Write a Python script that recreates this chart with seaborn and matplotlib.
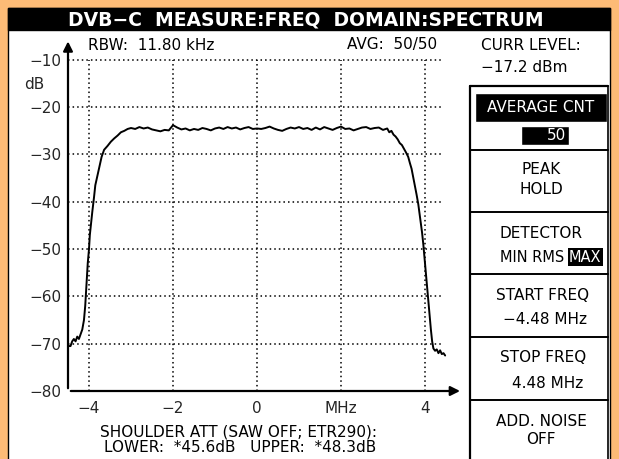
import matplotlib
matplotlib.use('Agg')
import matplotlib.pyplot as plt
import seaborn as sns
from matplotlib.patches import Rectangle

# spectrum trace (MHz, dB)
freq_left = [-4.48, -4.44, -4.40, -4.36, -4.32, -4.28, -4.24, -4.20, -4.16, -4.12,
             -4.09, -4.07, -4.05, -4.03, -4.00, -3.98, -3.95, -3.92, -3.88, -3.85,
             -3.80, -3.75, -3.70, -3.64, -3.56, -3.48, -3.40, -3.32, -3.24, -3.16,
             -3.08, -3.00]
level_left = [-70.5, -70.5, -69.5, -69.0, -69.5, -68.5, -69.0, -68.0, -67.0, -65.0,
              -62.0, -59.0, -56.0, -53.0, -50.0, -47.0, -44.5, -42.0, -39.0, -36.5,
              -34.5, -32.5, -30.5, -29.0, -28.2, -27.3, -26.6, -26.0, -25.3, -25.0,
              -24.6, -24.4]
freq_top = [-2.9, -2.8, -2.7, -2.6, -2.5, -2.4, -2.3, -2.2, -2.1, -2.0,
            -1.9, -1.8, -1.7, -1.6, -1.5, -1.4, -1.3, -1.2, -1.1, -1.0,
            -0.9, -0.8, -0.7, -0.6, -0.5, -0.4, -0.3, -0.2, -0.1, 0.0,
            0.1, 0.2, 0.3, 0.4, 0.5, 0.6, 0.7, 0.8, 0.9, 1.0,
            1.1, 1.2, 1.3, 1.4, 1.5, 1.6, 1.7, 1.8, 1.9, 2.0,
            2.1, 2.2, 2.3, 2.4, 2.5, 2.6, 2.7, 2.8, 2.9, 3.0, 3.1]
level_top = [-24.6, -24.2, -24.5, -24.3, -24.7, -24.9, -25.1, -24.8, -24.9, -23.8,
             -24.3, -24.7, -24.5, -24.9, -24.6, -24.8, -24.4, -24.6, -24.9, -24.5,
             -24.3, -24.6, -24.2, -24.5, -24.3, -24.7, -24.4, -24.2, -24.6, -24.5,
             -24.6, -24.4, -24.1, -24.5, -24.8, -25.0, -24.6, -24.3, -24.5, -24.2,
             -24.6, -24.4, -24.8, -24.3, -24.7, -24.2, -24.5, -24.8, -24.4, -24.1,
             -24.6, -24.5, -24.9, -24.6, -24.3, -24.2, -24.6, -24.4, -24.3, -24.8, -24.5]
freq_right = [3.15, 3.20, 3.25, 3.30, 3.35, 3.40, 3.45, 3.50, 3.55, 3.60,
              3.64, 3.68, 3.72, 3.76, 3.80, 3.84, 3.87, 3.90, 3.93, 3.96,
              3.99, 4.02, 4.05, 4.08, 4.11, 4.14, 4.17, 4.20, 4.24, 4.28,
              4.32, 4.36, 4.40, 4.44, 4.48]
level_right = [-25.3, -25.0, -25.8, -26.2, -26.8, -27.6, -28.0, -28.8, -29.6, -30.5,
               -31.8, -33.0, -34.8, -36.5, -38.5, -40.5, -42.5, -44.5, -46.5, -49.0,
               -52.0, -55.0, -58.0, -61.0, -64.0, -67.0, -69.5, -71.0, -71.5, -71.2,
               -72.0, -71.4, -72.2, -72.0, -72.5]

x_ticks = [-4, -2, 0, 2, 4]
x_labels = ['\u22124', '\u22122', '0', 'MHz', '4']
y_ticks = [-10, -20, -30, -40, -50, -60, -70, -80]

freq = freq_left + freq_top + freq_right
level = level_left + level_top + level_right

sns.set_style('white')
plt.rcParams['font.family'] = ['DejaVu Sans']

ORANGE = '#FDBB76'
W, H = 619, 459
fig = plt.figure(figsize=(W / 100, H / 100), dpi=100, facecolor=ORANGE)

# background layer in pixel coordinates
bg = fig.add_axes([0, 0, 1, 1])
bg.set_xlim(0, W)
bg.set_ylim(H, 0)
bg.axis('off')
bg.add_patch(Rectangle((8, 8), 602, 460, facecolor='white', edgecolor='black', lw=1))
bg.add_patch(Rectangle((8, 8), 602, 22, facecolor='black', edgecolor='black', lw=1))

def txt(x, y, s, ha='left', size=11, color='black', **kw):
    bg.text(x, y, s, ha=ha, va='center', fontsize=size, color=color, **kw)

txt(306, 19.5, 'DVB\u2212C  MEASURE:FREQ  DOMAIN:SPECTRUM', ha='center', size=13.5,
    color='white', fontweight='bold')
txt(88, 45, 'RBW:  11.80 kHz')
txt(437, 45, 'AVG:  50/50', ha='right')
txt(481, 46, 'CURR LEVEL:')
txt(481, 68, '\u221217.2 dBm')

# right-hand soft key panel
bg.plot([470, 470], [86, 459], color='black', lw=1.6)
bg.plot([470, 608], [86, 86], color='black', lw=1.6)
bg.plot([608, 608], [86, 459], color='black', lw=1.2)
for yy in [150, 212, 274, 337, 400]:
    bg.plot([470, 608], [yy, yy], color='black', lw=1.4)
bg.add_patch(Rectangle((475, 93), 132, 29, facecolor='black'))
txt(541, 107.5, 'AVERAGE CNT', ha='center', color='white')
bg.add_patch(Rectangle((521, 126), 48, 19, facecolor='black'))
txt(566, 135, '50', ha='right', color='white')
txt(541, 170, 'PEAK', ha='center')
txt(541, 189, 'HOLD', ha='center')
txt(541, 233, 'DETECTOR', ha='center')
txt(564, 257, 'MIN RMS', ha='right', size=10.5)
txt(569, 257, 'MAX', size=10.5, color='white',
    bbox=dict(facecolor='black', edgecolor='none', pad=1))
txt(543, 296, 'START FREQ', ha='center')
txt(545, 320, '\u22124.48 MHz', ha='center')
txt(543, 357, 'STOP FREQ', ha='center')
txt(548, 383, '4.48 MHz', ha='center')
txt(541, 422, 'ADD. NOISE', ha='center')
txt(541, 440, 'OFF', ha='center')

txt(238, 432, 'SHOULDER ATT (SAW OFF; ETR290):', ha='center')
txt(240, 448, 'LOWER:  *45.6dB   UPPER:  *48.3dB', ha='center')

# spectrum plot area: x from -4.5 MHz (px 68) to 4.9 MHz (px 463), y -80 (px 391) to -5.5
x0, x1 = -4.5, 4.9
y0, y1 = -80, -5.5
px_per_mhz, px_per_db = 42, 4.73
left = 257 + x0 * px_per_mhz
right = 257 + x1 * px_per_mhz
top = 391 - (y1 - y0) * px_per_db
ax = fig.add_axes([left / W, (H - 391) / H, (right - left) / W, (391 - top) / H])
ax.set_facecolor('none')
ax.set_xlim(x0, x1)
ax.set_ylim(y0, y1)
for s in ax.spines.values():
    s.set_visible(False)

# dotted grid
ax.hlines(y_ticks[:-1], x0, 4.4, colors='black', linestyles=(0, (1, 2)), lw=1.1)
ax.vlines(x_ticks, y0, -10, colors='black', linestyles=(0, (1, 2)), lw=1.1)

# axes with arrows
ax.annotate('', xy=(1, 0), xytext=(0, 0), xycoords='axes fraction',
            arrowprops=dict(arrowstyle='-|>', color='black', lw=1.6, mutation_scale=14))
ax.annotate('', xy=(0, 1), xytext=(0, 0), xycoords='axes fraction',
            arrowprops=dict(arrowstyle='-|>', color='black', lw=1.6, mutation_scale=14))

ax.set_xticks(x_ticks, labels=x_labels)
ax.set_xticks([-4.5, -3.5, -3, -2.5, -1.5, -1, -0.5, 0.5, 1, 1.5, 2.5, 3, 3.5, 4.5], minor=True)
ax.set_yticks(y_ticks, labels=['\u2212%d' % abs(v) for v in y_ticks])
ax.tick_params(axis='both', which='major', direction='out', length=3, width=1.2,
               labelsize=11, pad=2, color='black')
ax.tick_params(axis='x', which='minor', direction='out', length=2, width=1.2, color='black')
ax.tick_params(axis='x', which='major', pad=4)
ax.text(-0.085, (-15.1 - y0) / (y1 - y0), 'dB', transform=ax.transAxes, ha='center',
        va='center', fontsize=11)

sns.lineplot(x=freq, y=level, ax=ax, color='black', lw=1.4)

fig.savefig('out.png', dpi=100, facecolor=ORANGE)
